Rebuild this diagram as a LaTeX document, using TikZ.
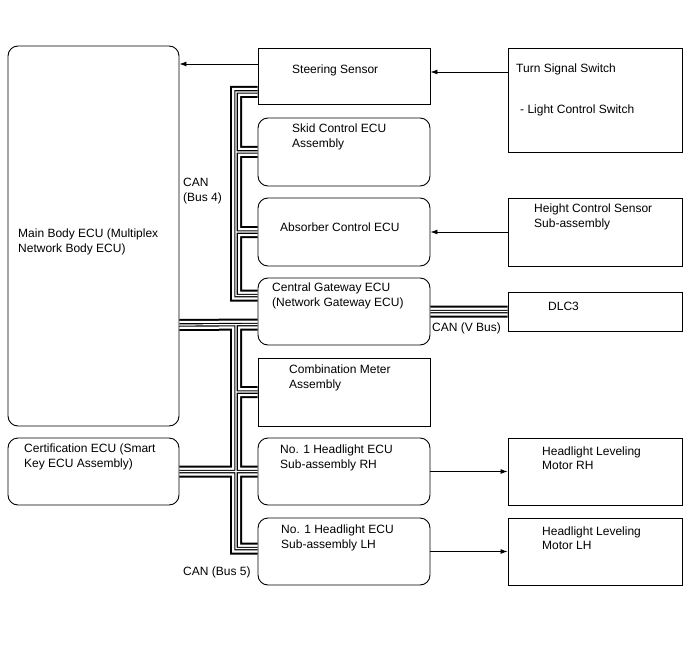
\documentclass[tikz,border=0pt]{standalone}
\usepackage{fontspec}
\setmainfont{Liberation Sans}
\usetikzlibrary{arrows.meta, positioning}

\begin{document}
\begin{tikzpicture}[
    x=1pt, y=-1pt,
    every node/.style={font=\fontsize{12}{14.5}\selectfont},
    box/.style={draw, line width=0.9pt, minimum width=172pt, minimum height=68pt, inner sep=0pt},
    rbox/.style={box, rounded corners=10pt},
    lbl/.style={anchor=west, align=left, inner sep=0pt},
    arrow/.style={-{Latex[length=7pt, width=5pt]}, line width=0.9pt},
    bus/.style={line width=12pt, line join=miter,
        postaction={draw, white, line width=8pt},
        postaction={draw, black, line width=3.5pt},
        postaction={draw, white, line width=1.2pt}}
]
\useasboundingbox (0,0) rectangle (688,658);

% --- Left column ---
\node[rbox, minimum width=171pt, minimum height=380pt] (mainbody) at (93.5,236) {};
\node[lbl] (mainbodytxt) at (18,242) {Main Body ECU (Multiplex\\Network Body ECU)};
\node[rbox, minimum width=171pt, minimum height=67pt] (cert) at (93.5,471.5) {};
\node[lbl] (certtxt) at (24,457) {Certification ECU (Smart\\Key ECU Assembly)};

% --- Middle column ---
\node[box, minimum height=56pt] (steering) at (344,76) {};
\node[lbl] (steeringtxt) at (292,70) {Steering Sensor};
\node[rbox] (skid) at (344,152) {};
\node[lbl] (skidtxt) at (292,137) {Skid Control ECU\\Assembly};
\node[rbox] (absorber) at (344,232) {};
\node[lbl] (absorbertxt) at (280,227) {Absorber Control ECU};
\node[rbox, minimum height=67pt] (gateway) at (344,311.5) {};
\node[lbl] (gatewaytxt) at (272,296) {Central Gateway ECU\\(Network Gateway ECU)};
\node[box] (combo) at (344,392) {};
\node[lbl] (combotxt) at (289,378) {Combination Meter\\Assembly};
\node[rbox, minimum height=67pt] (hlrh) at (344,471.5) {};
\node[lbl] (hlrhtxt) at (280,458) {No. 1 Headlight ECU\\Sub-assembly RH};
\node[rbox, minimum height=67pt] (hllh) at (344,551.5) {};
\node[lbl] (hllhtxt) at (281,538) {No. 1 Headlight ECU\\Sub-assembly LH};

% --- Right column ---
\node[box, minimum width=174pt, minimum height=104pt] (turn) at (595,100) {};
\node[lbl] (turntxt) at (516,69) {Turn Signal Switch};
\node[lbl] (lighttxt) at (520,110) {- Light Control Switch};
\node[box, minimum width=174pt] (height) at (595,232) {};
\node[lbl] (heighttxt) at (534,217) {Height Control Sensor\\Sub-assembly};
\node[box, minimum width=174pt, minimum height=39pt] (dlc) at (595,311.5) {};
\node[lbl] (dlctxt) at (548,306) {DLC3};
\node[box, minimum width=174pt, minimum height=67pt] (motorrh) at (595,471.5) {};
\node[lbl] (motorrhtxt) at (542,458) {Headlight Leveling\\Motor RH};
\node[box, minimum width=174pt, minimum height=67pt] (motorlh) at (595,551.5) {};
\node[lbl] (motorlhtxt) at (542,538) {Headlight Leveling\\Motor LH};

% --- CAN buses ---
\coordinate (b4x) at (236,0);
\coordinate (j5) at (236,325);
\draw[bus]
    ([yshift=-16pt]steering.west) -| ([yshift=16pt]gateway.west -| b4x) -- ([yshift=16pt]gateway.west)
    (skid.west) -- (skid.west -| b4x)
    (absorber.west) -- (absorber.west -| b4x)
    (mainbody.east |- j5) -- ([yshift=-13pt]gateway.west)
    (j5) |- ([yshift=3pt]hllh.west)
    (combo.west) -- (combo.west -| j5)
    (hlrh.west) -- (hlrh.west -| j5)
    (cert.east) -- (cert.east -| j5)
    (gateway.east) -- (dlc.west);

\node[lbl] (bus4) at (183,191) {CAN\\(Bus 4)};
\node[lbl] (vbus) at (432,328) {CAN (V Bus)};
\node[lbl] (bus5) at (183,572) {CAN (Bus 5)};

% --- Signal lines ---
\draw[arrow] ([yshift=12pt]steering.west) -- ([yshift=12pt]steering.west -| mainbody.east);
\draw[arrow] ([yshift=28pt]turn.west) -- ([yshift=28pt]turn.west -| steering.east);
\draw[arrow] (height.west) -- (absorber.east);
\draw[arrow] (hlrh.east) -- (motorrh.west);
\draw[arrow] (hllh.east) -- (motorlh.west);

\end{tikzpicture}
\end{document}
